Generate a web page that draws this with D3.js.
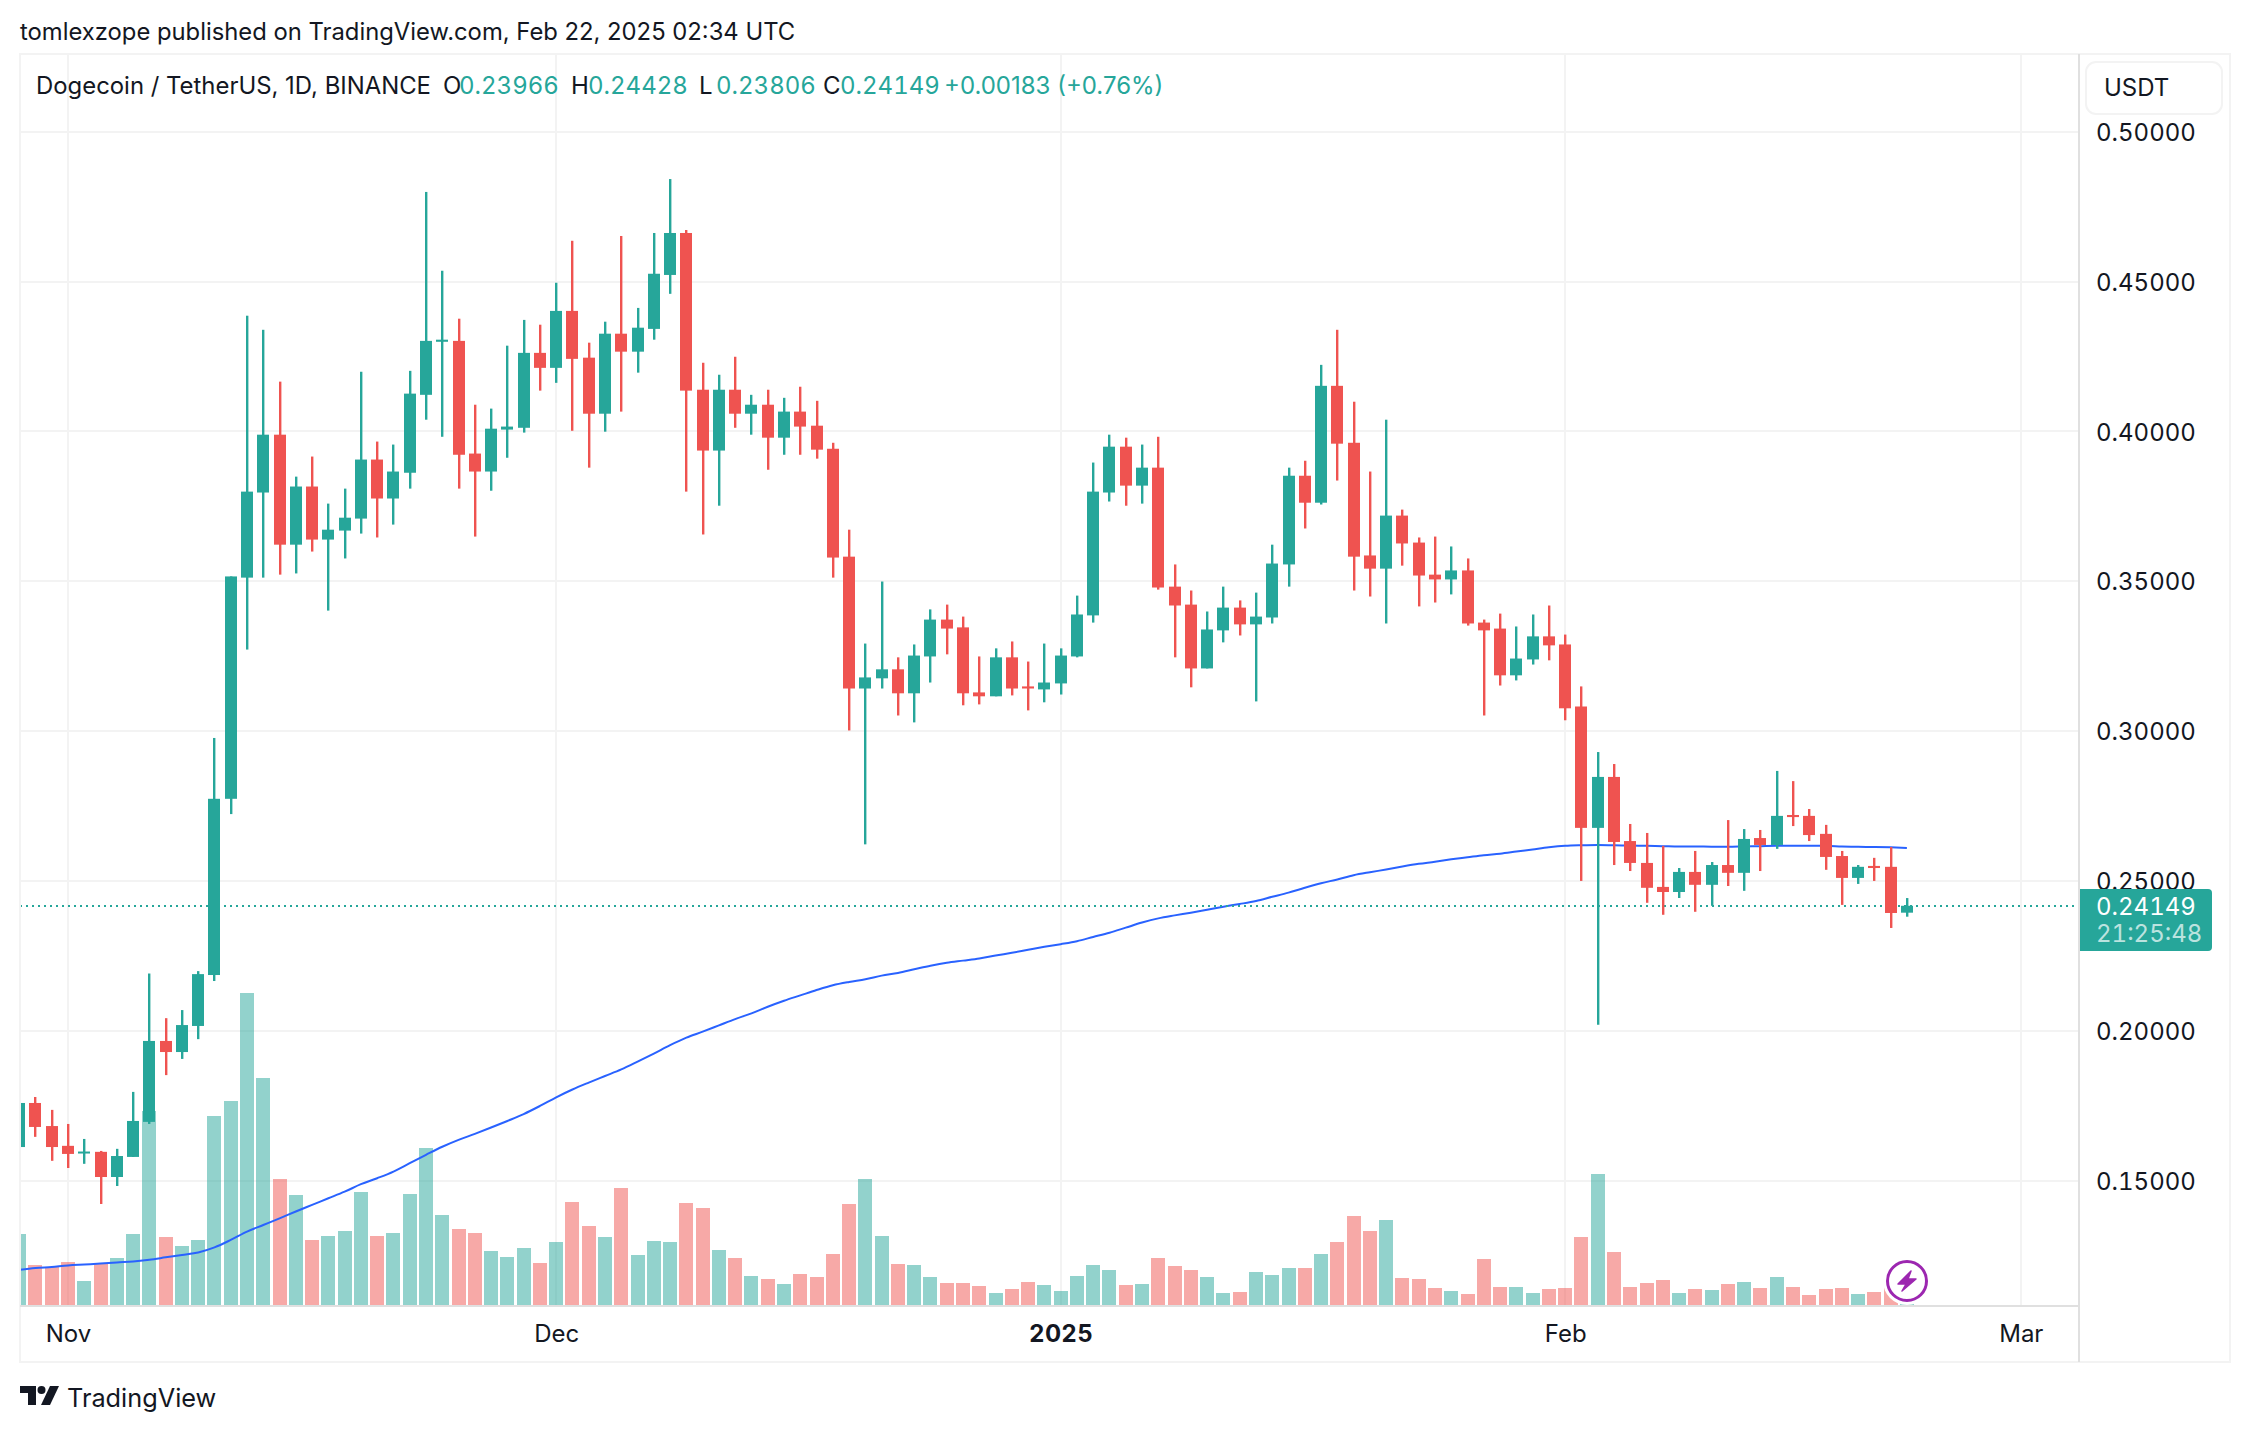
<!DOCTYPE html>
<html><head><meta charset="utf-8">
<script src="https://cdn.jsdelivr.net/npm/d3@7"></script>
<style>
html,body{margin:0;padding:0;background:#fff}
svg{display:block}
text{font-family:Inter,"Noto Sans",sans-serif}
.num{font-variant-numeric:tabular-nums}
</style></head><body>
<svg id="c" width="2250" height="1432"></svg>
<script>
const firstDay = Date.UTC(2024, 9, 29);
const opens = [
.1612,.1759,.1682,.1616,.1592,.1596,.1512,.1579,.1696,.1966,
.1929,.2016,.2186,.2774,.3512,.3796,.3989,.3622,.3816,.3639,
.3669,.3709,.3906,.3776,.3862,.4122,.4299,.4302,.3926,.3866,
.4006,.4012,.4262,.4212,.4402,.4246,.4059,.4326,.4266,.4342,
.4522,.4662,.4139,.3936,.4139,.4059,.4089,.3979,.4066,.4019,
.3942,.3582,.3142,.3176,.3206,.3126,.3249,.3372,.3346,.3129,
.3116,.3246,.3149,.3139,.3159,.3249,.3386,.3796,.3949,.3819,
.3879,.3482,.3422,.3209,.3336,.3412,.3356,.3379,.3556,.3852,
.3762,.4152,.3962,.3586,.3542,.3719,.3629,.3522,.3506,.3536,
.3362,.3342,.3186,.3239,.3316,.3289,.3082,.2677,.2847,.2633,
.2560,.2480,.2463,.2530,.2487,.2553,.2527,.2643,.2620,.2720,
.2717,.2657,.2583,.2510,.2550,.2547,.2394];
const highs = [
.1759,.1779,.1736,.1689,.1639,.1599,.1606,.1796,.2191,.2042,
.2069,.2199,.2977,.3516,.4386,.4339,.4166,.3849,.3916,.3759,
.3809,.4199,.3966,.3956,.4202,.4799,.4536,.4376,.4089,.4076,
.4286,.4372,.4356,.4496,.4636,.4296,.4366,.4652,.4412,.4662,
.4842,.4672,.4229,.4189,.4249,.4122,.4139,.4112,.4149,.4102,
.3962,.3672,.3292,.3499,.3246,.3289,.3406,.3422,.3382,.3249,
.3276,.3299,.3232,.3292,.3276,.3452,.3896,.3989,.3979,.3956,
.3982,.3556,.3469,.3399,.3482,.3436,.3462,.3622,.3879,.3902,
.4222,.4339,.4099,.3866,.4039,.3739,.3646,.3649,.3616,.3576,
.3372,.3392,.3349,.3389,.3419,.3322,.3149,.2930,.2890,.2690,
.2660,.2617,.2543,.2600,.2563,.2703,.2673,.2670,.2867,.2833,
.2740,.2687,.2600,.2553,.2577,.2613,.24428];
const lows = [
.1612,.1646,.1566,.1542,.1556,.1422,.1482,.1579,.1689,.1852,
.1906,.1972,.2166,.2723,.3272,.3512,.3522,.3526,.3599,.3402,
.3576,.3659,.3646,.3689,.3809,.4039,.3982,.3809,.3649,.3802,
.3912,.3996,.4136,.4162,.4002,.3879,.3999,.4066,.4196,.4306,
.4459,.3799,.3656,.3752,.4012,.3989,.3872,.3922,.3922,.3909,
.3512,.3002,.2622,.3142,.3052,.3029,.3162,.3256,.3086,.3089,
.3116,.3119,.3069,.3096,.3122,.3246,.3362,.3766,.3752,.3759,
.3472,.3246,.3146,.3209,.3296,.3319,.3099,.3359,.3482,.3676,
.3756,.3836,.3469,.3449,.3359,.3552,.3416,.3429,.3456,.3352,
.3052,.3152,.3169,.3222,.3236,.3036,.2500,.2020,.2553,.2533,
.2427,.2387,.2443,.2397,.2417,.2483,.2467,.2533,.2607,.2683,
.2633,.2537,.2420,.2490,.2500,.2343,.23806];
const closes = [
.1759,.1679,.1612,.1589,.1597,.1512,.1582,.1699,.1966,.1929,
.2019,.2189,.2774,.3516,.3799,.3989,.3622,.3816,.3639,.3672,
.3712,.3906,.3776,.3866,.4126,.4302,.4306,.3922,.3866,.4009,
.4016,.4262,.4212,.4402,.4242,.4059,.4326,.4266,.4346,.4526,
.4662,.4136,.3936,.4139,.4059,.4089,.3979,.4066,.4016,.3939,
.3579,.3142,.3179,.3206,.3126,.3252,.3372,.3342,.3126,.3116,
.3246,.3142,.3142,.3162,.3252,.3389,.3799,.3949,.3819,.3879,
.3479,.3419,.3209,.3339,.3412,.3356,.3382,.3559,.3852,.3762,
.4152,.3959,.3582,.3542,.3719,.3626,.3519,.3506,.3536,.3359,
.3336,.3186,.3242,.3316,.3286,.3076,.2677,.2847,.2630,.2560,
.2477,.2463,.2530,.2487,.2553,.2527,.2640,.2620,.2717,.2713,
.2653,.2580,.2510,.2547,.2543,.2393,.24170];
const volumes = [
71,40,38,43,24,41,47,71,194,68,
59,65,189,204,312,227,126,110,65,69,
74,113,69,72,111,157,90,76,72,54,
48,57,42,63,103,79,68,117,50,64,
63,102,97,55,47,29,26,21,31,28,
51,101,126,69,41,40,28,22,22,19,
12,16,23,20,14,29,40,35,20,21,
47,39,35,28,12,13,33,30,37,37,
51,63,89,74,85,27,26,17,14,11,
46,18,18,12,16,17,68,131,53,18,
22,25,12,16,15,21,23,17,28,18,
10,16,17,11,13,20,2];
const movingAverage = [
.1202,.1208,.1212,.1217,.1220,.1223,.1227,.1230,.1236,.1244,
.1252,.1260,.1277,.1302,.1330,.1352,.1374,.1397,.1419,.1441,
.1463,.1488,.1508,.1530,.1558,.1586,.1613,.1636,.1656,.1677,
.1699,.1722,.1749,.1778,.1804,.1827,.1849,.1871,.1897,.1924,
.1952,.1977,.1997,.2018,.2039,.2058,.2080,.2100,.2118,.2136,
.2152,.2163,.2172,.2184,.2193,.2205,.2217,.2227,.2234,.2241,
.2251,.2260,.2270,.2280,.2289,.2299,.2313,.2327,.2344,.2361,
.2375,.2385,.2394,.2404,.2414,.2423,.2433,.2447,.2461,.2477,
.2492,.2505,.2519,.2529,.2538,.2548,.2557,.2564,.2572,.2579,
.2586,.2591,.2598,.2605,.2612,.2617,.2619,.2620,.2619,.2618,
.2617,.2616,.2615,.2615,.2614,.2614,.2615,.2616,.2617,.2617,
.2617,.2617,.2615,.2614,.2613,.2612,.2610];
const priceTicks = [0.15,0.20,0.25,0.30,0.35,0.40,0.45,0.50];
const monthTicks = [
  {date:Date.UTC(2024,10,1),label:"Nov",bold:false},
  {date:Date.UTC(2024,11,1),label:"Dec",bold:false},
  {date:Date.UTC(2025,0,1),label:"2025",bold:true},
  {date:Date.UTC(2025,1,1),label:"Feb",bold:false},
  {date:Date.UTC(2025,2,1),label:"Mar",bold:false}];
const lastPrice = 0.24149, countdown = "21:25:48";
const titleText = "tomlexzope published on TradingView.com, Feb 22, 2025 02:34 UTC";
const legendName = "Dogecoin / TetherUS, 1D, BINANCE";
const legendItems = [["O","0.23966",443,459],["H","0.24428",571,588],["L","0.23806",699,716],["C","0.24149",823,840]];
const legendChange = "+0.00183 (+0.76%)";

const UP="#26a69a", DOWN="#ef5350", GRID="#f3f3f3", AXIS="#e0e0e0", INK="#131722";
const frame={l:20,r:2230,t:54,b:1362}, plot={l:20,r:2079,b:1306};
const svg=d3.select("#c");
const dayMs=864e5;
const rows=opens.map((o,i)=>({date:firstDay+i*dayMs,o,h:highs[i],l:lows[i],c:closes[i],v:volumes[i],ma:movingAverage[i],up:closes[i]>=o}));

const x=d3.scaleUtc().domain([Date.UTC(2024,10,1),Date.UTC(2025,2,1)]).range([68,2020.8]);
const y=d3.scaleLinear().domain([0.15,0.5]).range([1180.6,131.7]);
const yVol=d3.scaleLinear().domain([0,312]).range([1305,993]);
const X=d=>Math.round(x(d));

svg.append("defs").append("clipPath").attr("id","plotClip").append("rect")
  .attr("x",plot.l).attr("y",frame.t).attr("width",plot.r-plot.l).attr("height",plot.b-frame.t);

// grid
const grid=svg.append("g");
grid.selectAll(".h").data(priceTicks).join("line").attr("x1",plot.l).attr("x2",plot.r)
  .attr("y1",d=>Math.round(y(d))).attr("y2",d=>Math.round(y(d))).attr("stroke",GRID).attr("stroke-width",2);
grid.selectAll(".v").data(monthTicks).join("line").attr("y1",frame.t).attr("y2",plot.b)
  .attr("x1",d=>X(d.date)).attr("x2",d=>X(d.date)).attr("stroke",GRID).attr("stroke-width",2);

const plotG=svg.append("g").attr("clip-path","url(#plotClip)");
// volume
plotG.append("g").selectAll("rect").data(rows).join("rect")
  .attr("x",d=>X(d.date)-7).attr("width",14)
  .attr("y",d=>yVol(d.v)).attr("height",d=>yVol(0)-yVol(d.v))
  .attr("fill",d=>d.up?UP:DOWN).attr("opacity",0.5);
// moving average
plotG.append("path").datum(rows).attr("fill","none").attr("stroke","#2962ff").attr("stroke-width",2)
  .attr("d",d3.line().x(d=>x(d.date)).y(d=>y(d.ma)).curve(d3.curveMonotoneX));
// last price line
plotG.append("line").attr("x1",plot.l).attr("x2",plot.r).attr("y1",Math.round(y(lastPrice))).attr("y2",Math.round(y(lastPrice)))
  .attr("stroke",UP).attr("stroke-width",2).attr("stroke-dasharray","2 4");
// candles
const cg=plotG.append("g").selectAll("g").data(rows).join("g").attr("fill",d=>d.up?UP:DOWN);
cg.append("rect").attr("x",d=>X(d.date)-1).attr("width",2.4)
  .attr("y",d=>y(d.h)).attr("height",d=>y(d.l)-y(d.h));
cg.append("rect").attr("x",d=>X(d.date)-6).attr("width",12)
  .attr("y",d=>y(Math.max(d.o,d.c)))
  .attr("height",d=>Math.max(2,y(Math.min(d.o,d.c))-y(Math.max(d.o,d.c))));

// frame + axis rules
const fr=svg.append("g").attr("stroke",GRID).attr("stroke-width",2).attr("fill","none");
fr.append("rect").attr("x",frame.l).attr("y",frame.t).attr("width",frame.r-frame.l).attr("height",frame.b-frame.t);
svg.append("line").attr("x1",plot.r).attr("x2",plot.r).attr("y1",frame.t).attr("y2",frame.b).attr("stroke",AXIS).attr("stroke-width",2);
svg.append("line").attr("x1",frame.l).attr("x2",plot.r).attr("y1",plot.b).attr("y2",plot.b).attr("stroke",AXIS).attr("stroke-width",2);

// price axis
const yAxis=svg.append("g").attr("transform",`translate(${plot.r},0)`)
  .call(d3.axisRight(y).tickValues(priceTicks).tickFormat(d3.format(".5f")).tickSize(0).tickPadding(17));
yAxis.select(".domain").remove();
yAxis.selectAll("text").attr("font-size",24).attr("fill",INK).attr("class","num").style("font-family","Inter").attr("dy","0.36em");

// time axis
const xAxis=svg.append("g").attr("transform",`translate(0,${plot.b})`)
  .call(d3.axisBottom(x).tickValues(monthTicks.map(d=>d.date)).tickFormat((d,i)=>monthTicks[i].label).tickSize(0).tickPadding(19));
xAxis.select(".domain").remove();
xAxis.selectAll("text").attr("font-size",24).attr("fill",INK).style("font-family","Inter")
  .attr("font-weight",(d,i)=>monthTicks[i].bold?700:400).attr("letter-spacing",(d,i)=>monthTicks[i].bold?"0.5":null);

// last price label
const ly=svg.append("g");
ly.append("path").attr("d","M2080 889H2208a4 4 0 0 1 4 4V947a4 4 0 0 1 -4 4H2080Z").attr("fill",UP);
ly.append("text").attr("class","num").attr("x",2096).attr("y",906).attr("dy","0.36em").attr("font-size",24).attr("fill","#fff").text(d3.format(".5f")(lastPrice));
ly.append("text").attr("class","num").attr("x",2096).attr("y",933).attr("dy","0.36em").attr("font-size",24).attr("fill","#fff").attr("fill-opacity",0.7).text(countdown);

// currency box
svg.append("rect").attr("x",2086).attr("y",62).attr("width",136).attr("height",52).attr("rx",10)
  .attr("fill","#fff").attr("stroke",GRID).attr("stroke-width",2);
svg.append("text").attr("x",2104).attr("y",96).attr("font-size",24).attr("fill",INK).text("USDT");

// title
svg.append("text").attr("x",20).attr("y",40).attr("font-size",23.8).attr("fill",INK).text(titleText);

// legend
const leg=svg.append("g").attr("font-size",24);
leg.append("text").attr("x",36).attr("y",94).attr("font-size",23.9).attr("fill",INK).text(legendName);
legendItems.forEach(([k,v,kx,vx])=>{
  leg.append("text").attr("x",kx).attr("y",94).attr("fill",INK).text(k);
  leg.append("text").attr("class","num").attr("x",vx).attr("y",94).attr("fill",UP).text(v);
});
leg.append("text").attr("x",944).attr("y",94).attr("fill",UP).text(legendChange);

// logo
const logo=svg.append("g").attr("fill","#131722");
logo.append("path").attr("d","M20 1386H36V1405H28V1393H20Z");
logo.append("circle").attr("cx",41.5).attr("cy",1390).attr("r",4);
logo.append("path").attr("d","M50 1386H59L50 1405H41Z");
logo.append("text").attr("x",67).attr("y",1407).attr("font-size",25.3).attr("fill","#131722").text("TradingView");

// lightning badge
const b=svg.append("g").attr("transform","translate(1907,1281)");
b.append("circle").attr("r",24).attr("fill","#fff");
b.append("circle").attr("r",19.5).attr("fill","#fff").attr("stroke","#9c27b0").attr("stroke-width",3);
b.append("path").attr("d","M4 -10 L-9 3 L-1 3 L-5 10 L9 -2 L1 -2 Z").attr("fill","#9c27b0").attr("stroke","#9c27b0").attr("stroke-width",1.5).attr("stroke-linejoin","round");
</script></body></html>
